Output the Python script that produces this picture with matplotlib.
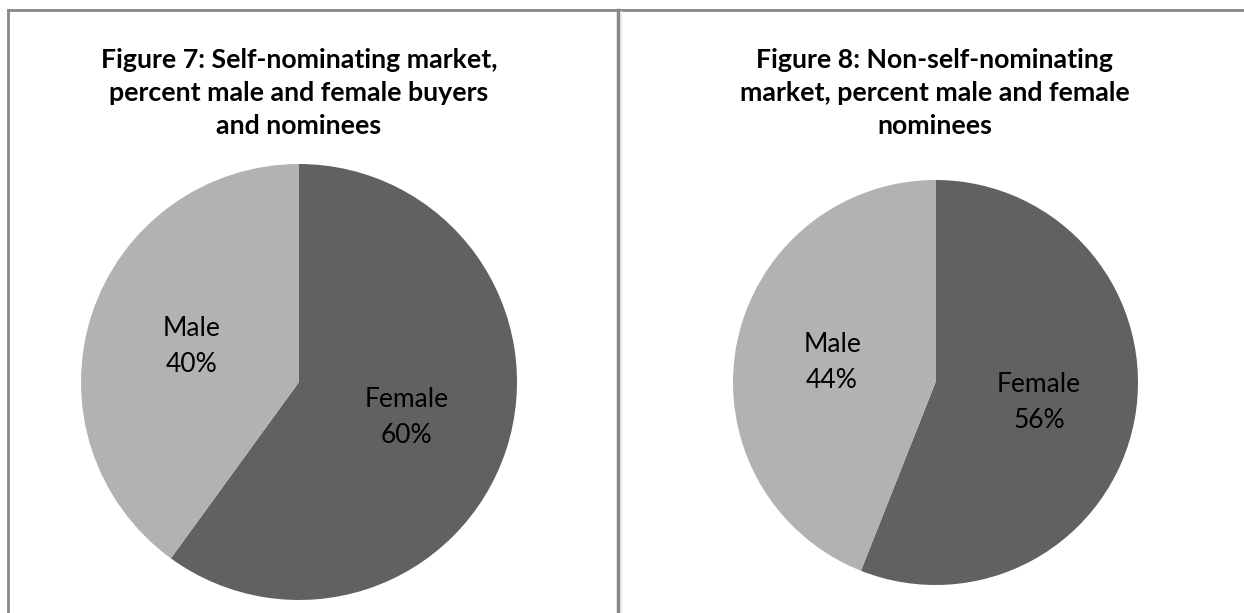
import matplotlib
matplotlib.use("Agg")
import matplotlib.pyplot as plt
from matplotlib.lines import Line2D

plt.rcParams['font.family'] = ['Lato', 'DejaVu Sans']

labels = ["Female", "Male"]
self_nom = [60, 40]
non_self_nom = [56, 44]
titles = [
    "Figure 7: Self-nominating market,\npercent male and female buyers\nand nominees",
    "Figure 8: Non-self-nominating\nmarket, percent male and female\nnominees",
]
colors = ["#616161", "#b2b2b2"]

W, H = 1244, 613
fig = plt.figure(figsize=(W / 100, H / 100), dpi=100)


def px_axes(cx, cy, r):
    # pie centre and radius in pixels (from top-left) -> axes rect
    return [(cx - r) / W, (H - cy - r) / H, 2 * r / W, 2 * r / H]


panels = [
    (self_nom, titles[0], (299, 382, 218), 299),
    (non_self_nom, titles[1], (935.5, 382.5, 202.5), 935),
]

for values, title, (cx, cy, r), tx in panels:
    ax = fig.add_axes(px_axes(cx, cy, r))
    ax.pie(values, colors=colors, startangle=90, counterclock=False,
           labels=[f"{l}\n{v}%" for l, v in zip(labels, values)],
           labeldistance=0.52,
           textprops=dict(fontsize=19, color="black", ha="center", va="center",
                          linespacing=1.55),
           wedgeprops=dict(linewidth=0))
    ax.set_xlim(-1, 1)
    ax.set_ylim(-1, 1)
    fig.text(tx / W, 1 - 93 / H, title, ha="center", va="center",
             fontsize=19.3, fontweight="bold", linespacing=1.45)

# panel borders
border = "#878787"
fig.add_artist(Line2D([8 / W, 8 / W], [0, 1 - 10 / H], color=border, lw=2))
fig.add_artist(Line2D([8 / W, 1], [1 - 10 / H, 1 - 10 / H], color=border, lw=2))
fig.add_artist(Line2D([618 / W, 618 / W], [0, 1 - 10 / H], color=border, lw=2.5))
fig.add_artist(Line2D([620.5 / W, 620.5 / W], [0, 1 - 11 / H], color="#e6e6e6", lw=1))

fig.savefig("out.png", dpi=100)
